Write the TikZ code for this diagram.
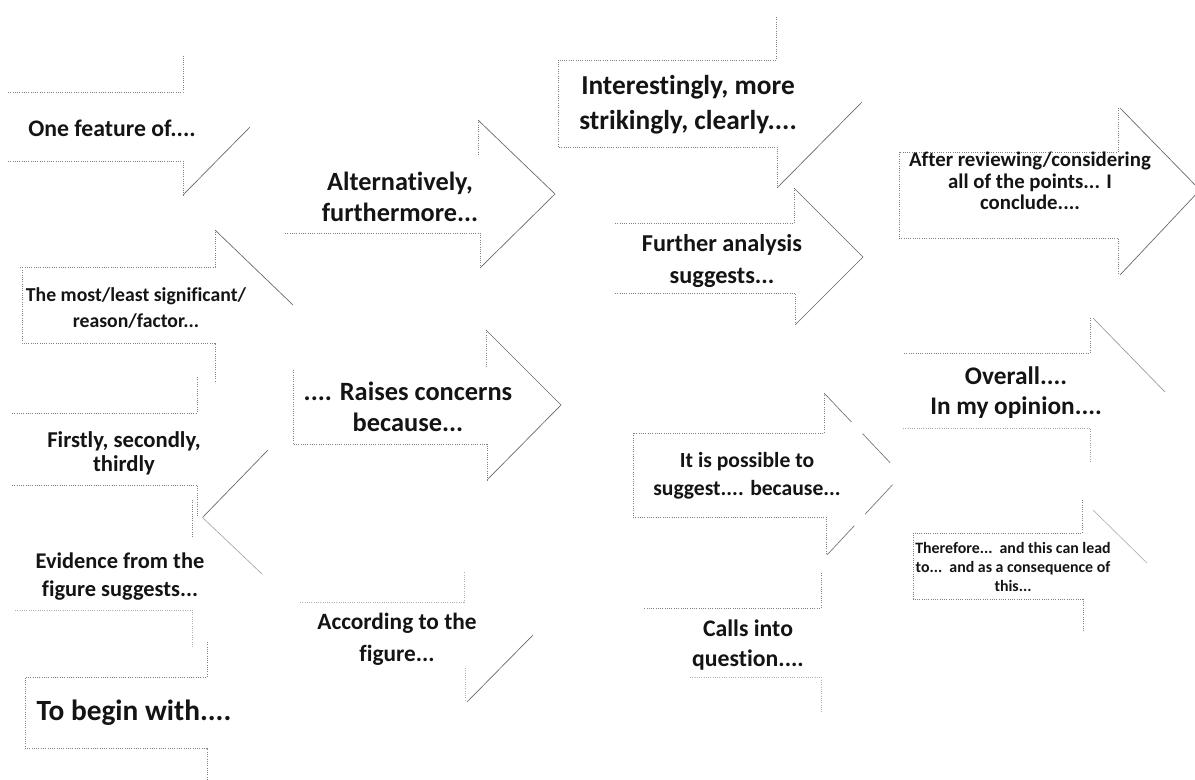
\documentclass[tikz,border=0pt]{standalone}
\usepackage{fontspec}
\setmainfont{Carlito}[Ligatures=NoCommon]
\usepackage{tikz}

\begin{document}
\begin{tikzpicture}[x=0.75pt,y=-0.75pt,
    outline/.style={densely dotted, black!50, line width=0.7pt},
    slant/.style={black!60, line width=0.5pt},
    broken/.style={black!55, line width=0.5pt, dash pattern=on 30pt off 12pt},
    phrase/.style 2 args={inner sep=0pt, align=center, text=black!92,
        font=\fontsize{#1}{#2}\selectfont\bfseries}]
    \fill[white] (0,0) rectangle (1195,780);
    \useasboundingbox (0,0) rectangle (1195,780);
    \clip (0,0) rectangle (1195,780);

    % One feature of
    \draw[outline] (8,92) -- (183,92) -- (183,56);
    \draw[outline] (8,161) -- (183,161) -- (183,195);
    \draw[slant] (183,195) -- (250,127);
    \node[phrase={17.8}{20}] (feature) at (112,128) {One feature of....};

    % most/least significant
    \draw[outline] (20,267) -- (215,267) -- (215,230);
    \draw[slant] (215,230) -- (293,305);
    \draw[outline] (22,270) -- (22,343) -- (215,343) -- (215,383);
    \node[phrase={14.8}{20}] (significant) at (136,308) {The most/least significant/\\reason/factor...};

    % firstly, secondly
    \draw[outline] (12,413) -- (197,413) -- (197,377);
    \draw[outline] (12,485) -- (197,485) -- (197,517);
    \draw[slant] (203,517) -- (268,450);
    \node[phrase={17}{18}] (firstly) at (124,453) {Firstly, secondly,\\thirdly};

    % evidence
    \draw[outline] (192,500) -- (192,537);
    \draw[slant, black!35] (202,517) -- (262,574);
    \draw[outline, black!30] (15,610) -- (192,610) -- (192,647);
    \node[phrase={16.8}{21}] (evidence) at (120,577) {Evidence from the\\figure suggests...};

    % to begin with
    \draw[outline] (207,642) -- (207,677) -- (25,677) -- (25,748) -- (207,748) -- (207,780);
    \node[phrase={22}{24}] (begin) at (134,713) {To begin with....};

    % alternatively
    \draw[outline] (478,120) -- (478,155);
    \draw[slant] (478,120) -- (555,194) -- (480,268);
    \draw[outline] (285,233) -- (480,233) -- (480,268);
    \node[phrase={19.7}{23}] (alternative) at (400,197) {Alternatively,\\furthermore...};

    % raises concerns
    \draw[outline] (486,330) -- (486,367);
    \draw[slant] (486,330) -- (561,405) -- (487,480);
    \draw[outline] (293,370) -- (293,444) -- (487,444) -- (487,480);
    \node[phrase={19.8}{23}] (concerns) at (408,407) {.... Raises concerns\\because...};

    % according to the figure
    \draw[outline, black!30] (300,602) -- (464,602) -- (464,572);
    \draw[outline, black!30] (465,668) -- (465,702);
    \draw[slant] (467,702) -- (533,635);
    \node[phrase={17.5}{24}] (according) at (397,639) {According to the\\figure...};

    % interestingly
    \draw[outline] (776,17) -- (776,60) -- (558,60) -- (558,147) -- (777,147) -- (777,188);
    \draw[slant] (777,188) -- (862,102);
    \node[phrase={20.5}{26}] (interesting) at (688,105) {Interestingly, more\\strikingly, clearly....};

    % further analysis
    \draw[outline] (794,188) -- (794,223) -- (615,223);
    \draw[slant] (794,188) -- (863,257) -- (795,325);
    \draw[outline] (615,293) -- (795,293) -- (795,325);
    \node[phrase={18.2}{24}] (analysis) at (722,261) {Further analysis\\suggests...};

    % possible to suggest
    \draw[outline] (824,393) -- (824,433) -- (633,433) -- (633,517) -- (826,517) -- (826,555);
    \draw[broken] (824,393) -- (897,470);
    \draw[broken] (827,555) -- (897,480);
    \node[phrase={16.2}{21}] (possible) at (747,476) {It is possible to\\suggest.... because...};

    % calls into question
    \draw[outline] (821,573) -- (821,608) -- (643,608);
    \draw[outline, black!30] (690,677) -- (821,677) -- (821,712);
    \node[phrase={17.8}{22.5}] (question) at (748,645) {Calls into\\question....};

    % conclude
    \draw[outline] (1118,108) -- (1118,152) -- (899,152) -- (899,238) -- (1118,238) -- (1118,275);
    \draw[slant] (1120,108) -- (1200,190) -- (1120,275);
    \node[phrase={15.6}{16}] (conclude) at (1030,181) {After reviewing/considering\\all of the points... I\\conclude....};

    % in my opinion
    \draw[outline] (1090,318) -- (1090,353) -- (903,353);
    \draw[slant, black!40] (1093,318) -- (1165,392);
    \draw[outline, black!35] (903,428) -- (1090,428) -- (1090,463);
    \node[phrase={19}{22.5}] (opinion) at (1016,393) {Overall....\\In my opinion....};

    % therefore
    \draw[outline] (1082,500) -- (1082,533) -- (913,533) -- (913,599) -- (1083,599) -- (1083,632);
    \draw[slant, black!30] (1093,510) -- (1147,563);
    \node[phrase={11.9}{14.6}] (therefore) at (1013,567) {Therefore...\ \ and this can lead\\to...\ \ and as a consequence of\\this...};
\end{tikzpicture}
\end{document}
